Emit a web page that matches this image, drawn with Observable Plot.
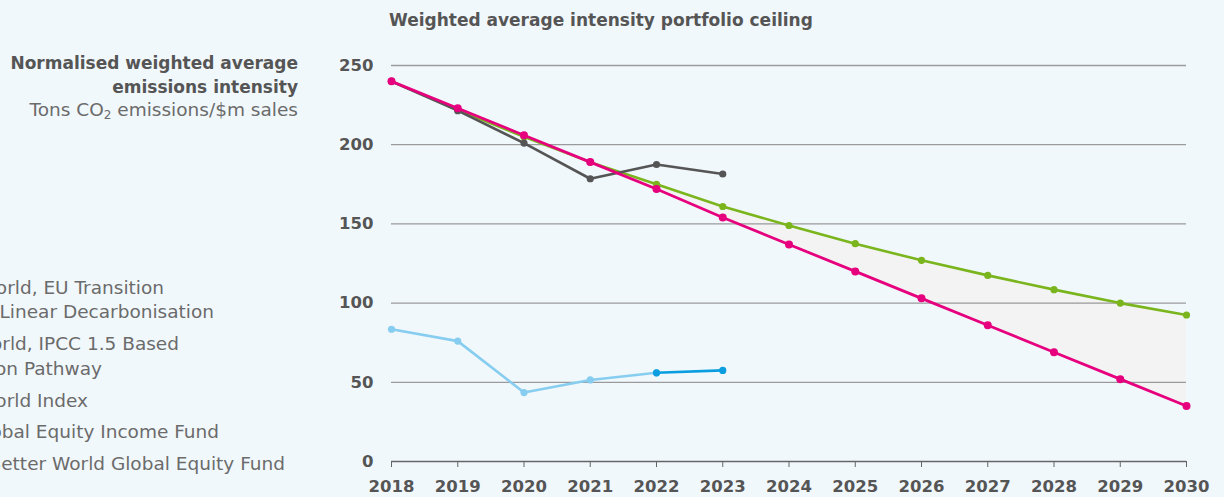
<!DOCTYPE html>
<html>
<head>
<meta charset="utf-8">
<script src="https://cdn.jsdelivr.net/npm/d3@7"></script>
<script src="https://cdn.jsdelivr.net/npm/@observablehq/plot@0.6"></script>
<style>
  html, body { margin: 0; padding: 0; background: #f1f8fc; overflow: hidden; }
  body { width: 1224px; height: 497px; position: relative; font-family: "DejaVu Sans", sans-serif; }
  #chart { position: absolute; left: 0; top: 0; }
  .abs { position: absolute; white-space: nowrap; }
  .title { left: 389px; top: 10px; font-size: 17px; font-weight: 700; color: #555; }
  .ylab { right: calc(1224px - 298px); text-align: right; font-size: 17px; color: #555; line-height: 24px; }
  .leg { font-size: 18.5px; color: #6b6b6b; text-align: right; line-height: 22px; }
</style>
</head>
<body>
<div id="chart"></div>
<script>
// ---- data ----
const years = [2018, 2019, 2020, 2021, 2022, 2023, 2024, 2025, 2026, 2027, 2028, 2029, 2030];
const euTransition = [240, 222, 205, 189, 175, 161, 149, 137.5, 127, 117.5, 108.5, 100, 92.5];
const ipccPathway  = [240, 223, 206, 189, 172, 154, 137, 120, 103, 86, 69, 52, 35];
const msciYears = [2018, 2019, 2020, 2021, 2022, 2023];
const msciWorld = [240, 221.5, 201, 178.5, 187.5, 181.5];
const geiYears = [2018, 2019, 2020, 2021, 2022];
const globalEquityIncome = [83.5, 76, 43.5, 51.5, 56];
const bwYears = [2022, 2023];
const betterWorld = [56, 57.5];
const yTicks = [0, 50, 100, 150, 200, 250];
const gridTicks = [50, 100, 150, 200, 250];
const title = "Weighted average intensity portfolio ceiling";
const legendLines = [
  "MSCI World, EU Transition",
  "Benchmark Linear Decarbonisation",
  "MSCI World, IPCC 1.5 Based",
  "Reduction Pathway",
  "MSCI World Index",
  "Global Equity Income Fund",
  "Better World Global Equity Fund"
];

const colors = {eu: "#7ab51d", ipcc: "#e6007e", msci: "#555555", gei: "#87cdf0", bw: "#0a9ee0"};

const pathRows = years.map((y, i) => ({year: y, eu: euTransition[i], ipcc: ipccPathway[i]}));
const msciRows = msciYears.map((y, i) => ({year: y, v: msciWorld[i]}));
const geiRows = geiYears.map((y, i) => ({year: y, v: globalEquityIncome[i]}));
const bwRows = bwYears.map((y, i) => ({year: y, v: betterWorld[i]}));

const chart = Plot.plot({
  width: 1224,
  height: 497,
  marginLeft: 391,
  marginRight: 38,
  marginTop: 65,
  marginBottom: 36,
  style: {background: "transparent", fontFamily: "'DejaVu Sans', sans-serif", fontSize: "16.5px", color: "#555", overflow: "visible"},
  x: {domain: [2018, 2030], label: null},
  y: {domain: [0, 250], label: null},
  marks: [
    Plot.areaY(pathRows, {x: "year", y1: "ipcc", y2: "eu", fill: "#f3f3f3", curve: "linear"}),
    Plot.ruleY(gridTicks, {stroke: "#9a9a9a", strokeWidth: 1.3}),
    Plot.axisY({ticks: yTicks, tickSize: 0, tickPadding: 18, fontWeight: 700, fill: "#555", label: null, tickFormat: d => String(d)}),
    Plot.axisX({ticks: years, tickSize: 6, tickPadding: 13, fontWeight: 700, fill: "#555", stroke: "#666", label: null, tickFormat: d => String(d)}),
    Plot.ruleY([0], {stroke: "#666", strokeWidth: 1.5}),
    Plot.line(geiRows, {x: "year", y: "v", stroke: colors.gei, strokeWidth: 2.6}),
    Plot.dot(geiRows, {x: "year", y: "v", fill: colors.gei, r: 3.6}),
    Plot.line(bwRows, {x: "year", y: "v", stroke: colors.bw, strokeWidth: 2.6}),
    Plot.dot(bwRows, {x: "year", y: "v", fill: colors.bw, r: 3.6}),
    Plot.line(pathRows, {x: "year", y: "eu", stroke: colors.eu, strokeWidth: 2.6}),
    Plot.dot(pathRows, {x: "year", y: "eu", fill: colors.eu, r: 3.6}),
    Plot.line(msciRows, {x: "year", y: "v", stroke: colors.msci, strokeWidth: 2.6}),
    Plot.dot(msciRows, {x: "year", y: "v", fill: colors.msci, r: 3.6}),
    Plot.line(pathRows, {x: "year", y: "ipcc", stroke: colors.ipcc, strokeWidth: 2.8}),
    Plot.dot(pathRows, {x: "year", y: "ipcc", fill: colors.ipcc, r: 4})
  ]
});
document.getElementById("chart").appendChild(chart);

function addDiv(cls, html, styles) {
  const d = document.createElement("div");
  d.className = "abs " + cls;
  d.innerHTML = html;
  Object.assign(d.style, styles || {});
  document.body.appendChild(d);
}
addDiv("title", title);
addDiv("ylab", "<b>Normalised weighted average</b>", {top: "51px"});
addDiv("ylab", "<b>emissions intensity</b>", {top: "75px"});
addDiv("ylab", "Tons CO<sub style='font-size:12px;vertical-align:-3px'>2</sub> emissions/$m sales", {top: "98px", color: "#6b6b6b", fontSize: "18.5px"});

// legend text (clipped by the left edge as in the reference)
const legendPos = [[164, 277], [214, 301], [179, 333], [102, 358], [88, 390], [219, 421], [285, 453]];
legendLines.forEach((t, i) => {
  const [xr, yt] = legendPos[i];
  addDiv("leg", t, {right: (1224 - xr) + "px", top: yt + "px"});
});
</script>
</body>
</html>
